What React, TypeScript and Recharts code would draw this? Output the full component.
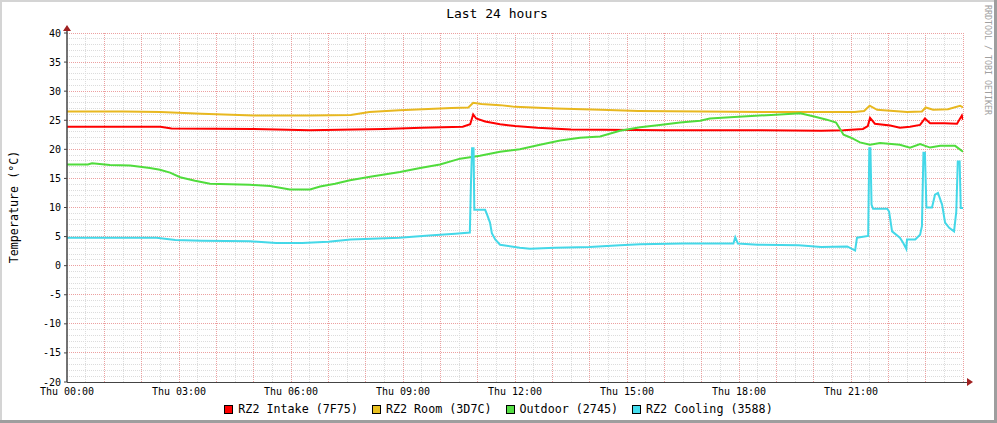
import { LineChart, Line, XAxis, YAxis, ReferenceLine } from "recharts";

const FONT = "'DejaVu Sans Mono', monospace";

// hours since Thu 00:00 and temperatures (°C)
const intakeHours = [0, 2.5, 2.8, 5.0, 6.5, 8.5, 9.5, 10.6, 10.8, 10.88, 10.96, 11.2, 11.6, 12.0, 12.6, 13.5, 16.0, 18.0, 20.2, 20.8, 21.32, 21.45, 21.51, 21.64, 22.05, 22.31, 22.58, 22.85, 22.98, 23.12, 23.5, 23.84, 23.97, 24];
const intakeTemps = [23.9, 23.9, 23.6, 23.5, 23.3, 23.5, 23.7, 23.9, 24.3, 26.0, 25.3, 24.8, 24.3, 24.0, 23.7, 23.4, 23.3, 23.3, 23.2, 23.3, 23.5, 24.0, 25.4, 24.4, 24.1, 23.7, 23.9, 24.2, 25.3, 24.5, 24.5, 24.4, 25.8, 25.1];

const roomHours = [0, 1.5, 2.5, 3.6, 5.0, 6.5, 7.6, 8.1, 8.9, 10.3, 10.75, 10.88, 11.1, 11.6, 12.0, 13.1, 14.3, 15.3, 17.0, 19.6, 21.1, 21.35, 21.5, 21.7, 22.5, 22.9, 23.0, 23.2, 23.6, 23.92, 24];
const roomTemps = [26.5, 26.5, 26.4, 26.1, 25.8, 25.8, 25.9, 26.4, 26.7, 27.1, 27.2, 28.0, 27.8, 27.6, 27.3, 27.0, 26.8, 26.6, 26.5, 26.4, 26.4, 26.6, 27.5, 26.8, 26.4, 26.5, 27.2, 26.8, 26.9, 27.5, 27.2];

const outdoorHours = [0, 0.56, 0.67, 1.15, 1.69, 2.22, 2.49, 2.76, 3.03, 3.43, 3.83, 4.9, 5.44, 5.97, 6.51, 6.78, 7.18, 7.58, 8.12, 8.92, 9.46, 9.99, 10.53, 11.06, 11.6, 12.13, 12.67, 13.21, 13.74, 14.28, 14.81, 15.35, 15.88, 16.42, 16.96, 17.22, 17.76, 18.56, 19.1, 19.64, 20.04, 20.35, 20.6, 20.8, 21.0, 21.24, 21.51, 21.78, 22.31, 22.58, 22.85, 23.12, 23.39, 23.79, 24];
const outdoorTemps = [17.4, 17.4, 17.6, 17.3, 17.2, 16.8, 16.5, 16.0, 15.2, 14.6, 14.1, 13.9, 13.7, 13.1, 13.1, 13.6, 14.1, 14.7, 15.3, 16.1, 16.8, 17.4, 18.4, 18.9, 19.6, 20.0, 20.8, 21.5, 22.0, 22.2, 23.2, 23.8, 24.2, 24.6, 24.9, 25.3, 25.5, 25.8, 26.0, 26.2, 25.6, 25.1, 24.6, 22.5, 22.0, 21.2, 20.8, 21.1, 20.8, 20.3, 20.9, 20.3, 20.6, 20.6, 19.6];

const coolingHours = [0, 0.9, 2.4, 2.9, 3.6, 4.9, 5.6, 6.3, 7.0, 7.6, 8.9, 9.7, 10.4, 10.79, 10.82, 10.85, 10.89, 10.91, 11.2, 11.25, 11.33, 11.38, 11.47, 11.6, 12.13, 12.4, 13.07, 14.0, 14.81, 15.35, 16.5, 17.85, 17.9, 17.97, 18.5, 19.6, 20.2, 20.9, 21.11, 21.16, 21.46, 21.49, 21.52, 21.55, 21.59, 21.97, 22.02, 22.06, 22.1, 22.31, 22.4, 22.48, 22.5, 22.72, 22.85, 22.9, 22.94, 22.98, 23.02, 23.17, 23.25, 23.33, 23.44, 23.52, 23.63, 23.76, 23.82, 23.86, 23.91, 23.94, 24];
const coolingTemps = [4.8, 4.8, 4.8, 4.4, 4.3, 4.2, 3.9, 3.9, 4.1, 4.5, 4.8, 5.2, 5.5, 5.7, 14.0, 20.2, 20.2, 9.6, 9.6, 8.8, 7.4, 5.6, 4.5, 3.6, 3.1, 2.9, 3.1, 3.2, 3.5, 3.7, 3.8, 3.8, 4.9, 3.8, 3.6, 3.5, 3.2, 3.3, 2.6, 4.8, 5.1, 20.2, 20.2, 10.5, 9.8, 9.8, 9.3, 7.6, 5.9, 4.8, 3.9, 2.9, 4.5, 4.5, 5.3, 6.8, 19.4, 19.4, 10.0, 10.0, 12.2, 12.5, 10.5, 7.4, 6.5, 5.9, 9.3, 17.9, 17.9, 9.9, 9.9];

const timeTicks = [0, 3, 6, 9, 12, 15, 18, 21];
const tempTicks = [-20, -15, -10, -5, 0, 5, 10, 15, 20, 25, 30, 35, 40];

const series = [
  { name: "RZ2 Intake (7F75)", color: "#ff0000", swatch: "#ff0000", hours: intakeHours, temps: intakeTemps },
  { name: "RZ2 Room (3D7C)", color: "#e8b820", swatch: "#e8c020", hours: roomHours, temps: roomTemps },
  { name: "Outdoor (2745)", color: "#50dc3c", swatch: "#55dd44", hours: outdoorHours, temps: outdoorTemps },
  { name: "RZ2 Cooling (3588)", color: "#44d8e8", swatch: "#44ddee", hours: coolingHours, temps: coolingTemps },
];

const minorY: number[] = [];
const majorY: number[] = [];
for (let t = -19; t <= 40; t++) (t % 5 === 0 ? majorY : minorY).push(t);
const minorX: number[] = [];
const majorX: number[] = [];
for (let i = 1; i <= 48; i++) (i % 2 === 0 ? majorX : minorX).push(i / 2);

const pad = (n: number) => String(n).padStart(2, "0");

export default function App() {
  return (
    <div style={{ position: "absolute", left: 0, top: 0, width: 997, height: 423, background: "#fff", overflow: "hidden" }}>
      <LineChart width={997} height={423} margin={{ top: 33, right: 34, bottom: 21, left: 17 }}>
        <XAxis
          dataKey="h"
          type="number"
          domain={[0, 24]}
          ticks={timeTicks}
          allowDataOverflow
          height={20}
          tickFormatter={(h: number) => `Thu ${pad(h)}:00`}
          tick={{ fontSize: 10, fontFamily: FONT, fill: "#000" }}
          tickSize={2}
          tickMargin={4}
          tickLine={false}
          axisLine={false}
        />
        <YAxis
          type="number"
          domain={[-20, 40]}
          ticks={tempTicks}
          width={50}
          allowDataOverflow
          tick={{ fontSize: 10, fontFamily: FONT, fill: "#000" }}
          tickSize={3}
          tickMargin={3}
          axisLine={false}
          tickLine={{ stroke: "#444" }}
        />
        {minorY.map((t) => (
          <ReferenceLine key={"my" + t} y={t} stroke="#dcdcdc" strokeDasharray="1 1" shapeRendering="crispEdges" />
        ))}
        {minorX.map((h) => (
          <ReferenceLine key={"mx" + h} x={h} stroke="#dcdcdc" strokeDasharray="1 1" shapeRendering="crispEdges" />
        ))}
        {majorY.map((t) => (
          <ReferenceLine key={"My" + t} y={t} stroke="#eca0a0" strokeDasharray="1 1" shapeRendering="crispEdges" />
        ))}
        {majorX.map((h) => (
          <ReferenceLine key={"Mx" + h} x={h} stroke="#eca0a0" strokeDasharray="1 1" shapeRendering="crispEdges" />
        ))}
        {series.map((s) => (
          <Line
            key={s.name}
            data={s.hours.map((h, i) => ({ h, v: s.temps[i] }))}
            dataKey="v"
            name={s.name}
            type="linear"
            stroke={s.color}
            strokeWidth={2}
            dot={false}
            activeDot={false}
            isAnimationActive={false}
          />
        ))}
      </LineChart>

      <svg width={997} height={423} style={{ position: "absolute", left: 0, top: 0, pointerEvents: "none" }}>
        <line x1={67} y1={382} x2={968} y2={382} stroke="#444" shapeRendering="crispEdges" />
        <line x1={67} y1={28} x2={67} y2={382} stroke="#444" strokeWidth={1.5} />
        <polygon points="967,378 967,386 973,382" fill="#a02020" />
        <polygon points="63,31 71,31 67,25" fill="#a02020" />
        <text x={497} y={18} textAnchor="middle" fontFamily={FONT} fontSize={13} fill="#000">
          Last 24 hours
        </text>
        <text
          x={14}
          y={207}
          textAnchor="middle"
          transform="rotate(-90 14 207)"
          fontFamily={FONT}
          fontSize={11.7}
          fill="#000"
          dominantBaseline="central"
        >
          Temperature (°C)
        </text>
        <text x={985} y={5} transform="rotate(90 985 5)" fontFamily={FONT} fontSize={8.3} fill="#a0a0a0">
          RRDTOOL / TOBI OETIKER
        </text>
        <rect x={0} y={0} width={997} height={2} fill="#d4d4d4" />
        <rect x={0} y={0} width={2} height={423} fill="#d4d4d4" />
        <rect x={994} y={0} width={3} height={423} fill="#9e9e9e" />
        <rect x={0} y={420} width={997} height={3} fill="#9e9e9e" />
      </svg>

      <div
        style={{
          position: "absolute",
          left: 0,
          top: 402,
          width: 997,
          display: "flex",
          justifyContent: "center",
          fontFamily: FONT,
          fontSize: 11.7,
          lineHeight: "14px",
          color: "#000",
        }}
      >
        {series.map((s) => (
          <div key={s.name} style={{ display: "flex", alignItems: "center", margin: "0 7px" }}>
            <span
              style={{
                display: "inline-block",
                width: 7,
                height: 7,
                background: s.swatch,
                border: "1px solid #000",
                marginRight: 5,
              }}
            />
            <span>{s.name}</span>
          </div>
        ))}
      </div>
    </div>
  );
}
